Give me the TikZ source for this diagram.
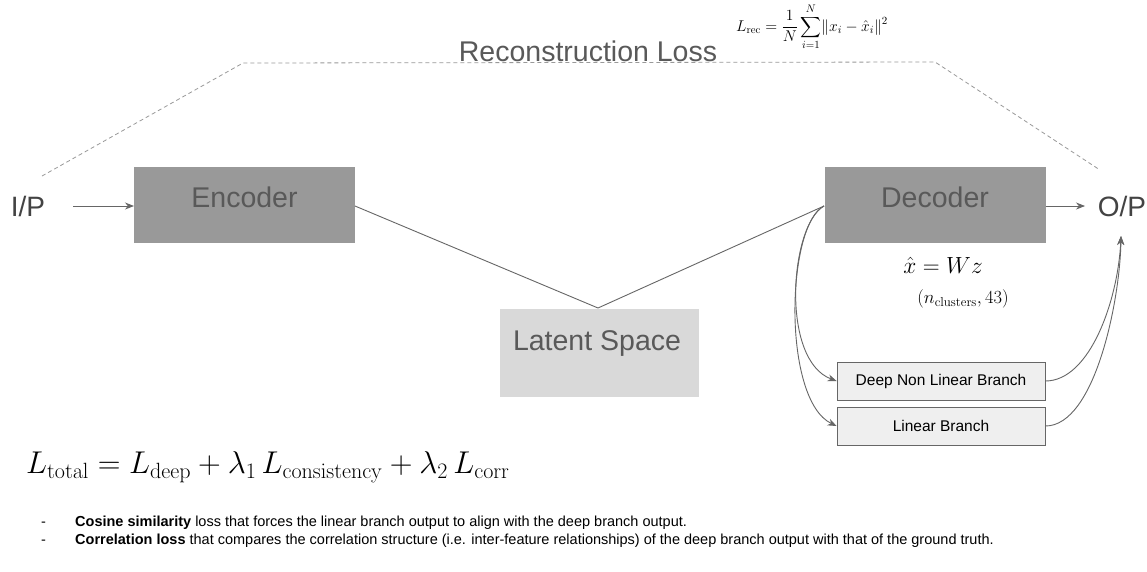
\RequirePackage{fix-cm}
\documentclass[tikz,border=0pt]{standalone}
\usepackage{amsmath}
\usepackage[no-math]{fontspec}
\setmainfont{Liberation Sans}
\usetikzlibrary{arrows.meta}
\definecolor{boxdark}{HTML}{999999}
\definecolor{boxlight}{HTML}{D9D9D9}
\definecolor{boxpale}{HTML}{EFEFEF}
\definecolor{txtgray}{HTML}{595959}
\definecolor{iogray}{HTML}{434343}
\definecolor{linegray}{HTML}{666666}
\tikzset{
  bigbox/.style={draw=none, inner sep=0pt, outer sep=0pt},
  bigtext/.style={inner sep=0pt, anchor=base, text=txtgray, font=\fontsize{28.5}{30}\selectfont},
  iotext/.style={inner sep=0pt, anchor=base, text=iogray, font=\fontsize{28}{30}\selectfont},
  branchbox/.style={draw=linegray, fill=boxpale, line width=0.8pt, minimum width=208pt, minimum height=38pt, inner sep=0pt, font=\fontsize{15.5}{17}\selectfont},
  conn/.style={draw=linegray, line width=0.9pt},
  arr/.style={conn, -{Stealth[length=9pt,width=7pt]}},
  dashline/.style={draw=gray!80, line width=0.8pt, dash pattern=on 4pt off 3pt},
  bullet/.style={inner sep=0pt, anchor=base west, font=\fontsize{14.5}{16}\selectfont},
}
\begin{document}
\begin{tikzpicture}[x=1pt,y=-1pt]
\fill[white] (0,0) rectangle (1147,571);
\useasboundingbox (0,0) rectangle (1147,571);

% boxes
\node[bigbox, fill=boxdark, minimum width=221pt, minimum height=76pt] (enc) at (244.5,205) {};
\node[bigtext] (enct) at (244.5,207) {Encoder};
\node[bigbox, fill=boxdark, minimum width=221pt, minimum height=76pt] (dec) at (935,205) {};
\node[bigtext] (dect) at (935,207) {Decoder};
\node[bigbox, fill=boxlight, minimum width=199pt, minimum height=88pt] (lat) at (599.5,353) {};
\node[bigtext] (latt) at (597,350) {Latent Space};

\node[iotext] (ip) at (28,216) {I/P};
\node[iotext] (op) at (1122,216) {O/P};

\node[bigtext] (rl) at (588,61) {Reconstruction Loss};

\node[branchbox] (deep) at (941,381) {Deep Non Linear Branch};
\node[branchbox] (lin) at (941,426) {Linear Branch};

% math
\node[inner sep=0pt] (lrec) at (812,27) {\fontsize{15.6}{18}\selectfont$\displaystyle L_{\mathrm{rec}} = \frac{1}{N}\sum_{i=1}^{N}\lVert x_i - \hat{x}_i\rVert^2$};
\node[inner sep=0pt] (wz) at (943,265) {\fontsize{23.4}{26}\selectfont$\hat{x} = W z$};
\node[inner sep=0pt] (ncl) at (963,299) {\fontsize{18.5}{20}\selectfont$(n_{\mathrm{clusters}}, 43)$};
\node[inner sep=0pt, anchor=west] (ltot) at (26,467) {\fontsize{31.5}{35}\selectfont$L_{\mathrm{total}} = L_{\mathrm{deep}} + \lambda_1\, L_{\mathrm{consistency}} + \lambda_2\, L_{\mathrm{corr}}$};

% bullets
\node[bullet] (d1) at (41,526) {-};
\node[bullet] (b1) at (75,526) {\textbf{Cosine similarity} loss that forces the linear branch output to align with the deep branch output.};
\node[bullet] (d2) at (41,544) {-};
\node[bullet] (b2) at (75,544) {\textbf{Correlation loss} that compares the correlation structure (i.e. inter-feature relationships) of the deep branch output with that of the ground truth.};

% coordinates
\coordinate (ipr) at (73,206);
\coordinate (opl) at (1085,206);
\coordinate (opb) at (1121,236);
\coordinate (encr) at (355,206);
\coordinate (decl) at (824,206);
\coordinate (latt0) at (598,308);
\coordinate (da) at (42,176);
\coordinate (db) at (243,63);
\coordinate (dc) at (935,62);
\coordinate (dd) at (1100,170);

% connectors
\draw[arr] (ipr) -- (enc.west |- ipr);
\draw[arr] (dec.east |- opl) -- (opl);
\draw[conn] (encr) -- (latt0) -- (decl);
\draw[dashline] (da) -- (db) -- (dc) -- (dd);

\draw[arr] (decl) .. controls (790,225) and (780,360) .. (deep.west);
\draw[arr] (decl) .. controls (786,225) and (782,400) .. (lin.west);
\draw[arr] (deep.east) .. controls (1090,381) and (1118,300) .. (opb);
\draw[arr] (lin.east) .. controls (1095,426) and (1120,300) .. (opb);
\end{tikzpicture}
\end{document}
